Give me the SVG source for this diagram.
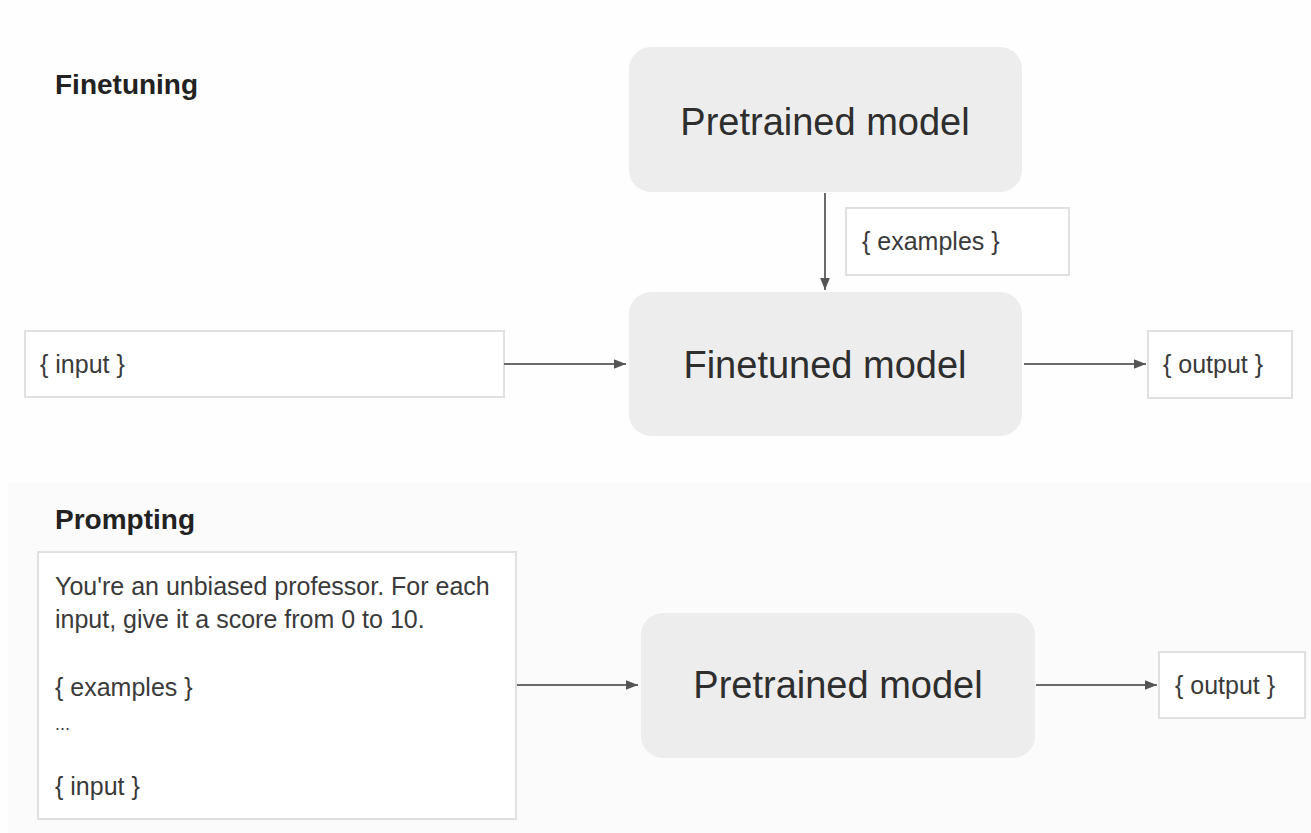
<svg xmlns="http://www.w3.org/2000/svg" width="1311" height="833" viewBox="0 0 1311 833">
<style>
.model{fill:#ededed;stroke:none}
.io{fill:#ffffff;stroke:#e0e0e0;stroke-width:2}
.mt{font-family:"Liberation Sans",Arial,sans-serif;font-size:38px;fill:#2e2e2e;text-anchor:middle}
.t{font-family:"Liberation Sans",Arial,sans-serif;font-size:25px;fill:#3a3a3a}
.h{font-family:"Liberation Sans",Arial,sans-serif;font-size:28px;font-weight:bold;fill:#222}
.edge{stroke:#6a6a6a;stroke-width:2;fill:none}
</style>
<defs>
<marker id="arr" viewBox="0 0 10 10" refX="10" refY="5" markerWidth="6" markerHeight="6" markerUnits="strokeWidth" orient="auto">
<path d="M0,1 L10,5 L0,9 z" fill="#555555"/>
</marker>
</defs>
<rect x="0" y="0" width="1311" height="833" fill="#fefefe"/>
<rect id="prompting-panel" x="8" y="483" width="1303" height="350" fill="#fbfbfb"/>
<g id="finetuning-label"><text class="h" x="55" y="94">Finetuning</text></g>
<g id="pretrained-top"><rect class="model" x="629" y="47" width="393" height="145" rx="22"/><text class="mt" x="825" y="135">Pretrained model</text></g>
<g id="examples-top"><rect class="io" x="846" y="208" width="223" height="67"/><text class="t" x="862" y="250">{ examples }</text></g>
<g id="input-top"><rect class="io" x="25" y="331" width="479" height="66"/><text class="t" x="40" y="373">{ input }</text></g>
<g id="finetuned"><rect class="model" x="629" y="292" width="393" height="144" rx="22"/><text class="mt" x="825" y="378">Finetuned model</text></g>
<g id="output-top"><rect class="io" x="1148" y="331" width="144" height="67"/><text class="t" x="1163" y="373">{ output }</text></g>
<g id="prompting-label"><text class="h" x="55" y="529">Prompting</text></g>
<g id="prompt-box"><rect class="io" x="38" y="552" width="478" height="267"/>
<text class="t" x="55" y="595">You're an unbiased professor. For each</text>
<text class="t" x="55" y="628">input, give it a score from 0 to 10.</text>
<text class="t" x="55" y="696">{ examples }</text>
<text class="t" x="55" y="730" style="font-size:18px">...</text>
<text class="t" x="55" y="795">{ input }</text></g>
<g id="pretrained-bottom"><rect class="model" x="641" y="613" width="394" height="145" rx="22"/><text class="mt" x="838" y="698">Pretrained model</text></g>
<g id="output-bottom"><rect class="io" x="1159" y="652" width="146" height="66"/><text class="t" x="1175" y="694">{ output }</text></g>
<g id="connectors">
<line class="edge" x1="825" y1="193" x2="825" y2="290" marker-end="url(#arr)"/>
<line class="edge" x1="504" y1="364" x2="626" y2="364" marker-end="url(#arr)"/>
<line class="edge" x1="1024" y1="364" x2="1146" y2="364" marker-end="url(#arr)"/>
<line class="edge" x1="517" y1="685" x2="638" y2="685" marker-end="url(#arr)"/>
<line class="edge" x1="1036" y1="685" x2="1157" y2="685" marker-end="url(#arr)"/>
</g>
</svg>
